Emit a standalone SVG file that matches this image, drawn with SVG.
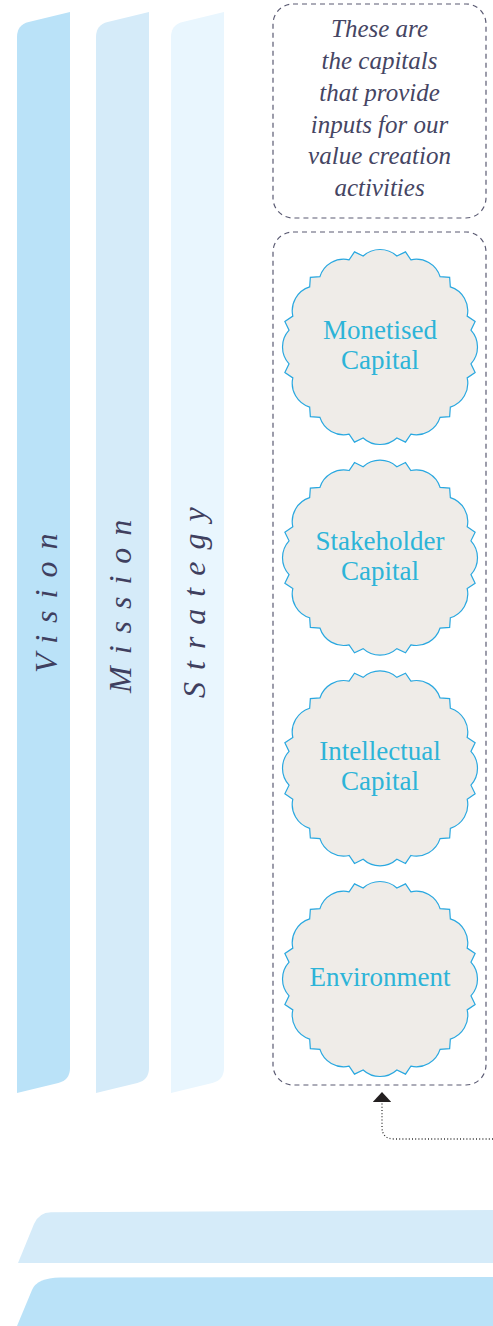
<svg xmlns="http://www.w3.org/2000/svg" xmlns:xlink="http://www.w3.org/1999/xlink" width="493" height="1326" viewBox="0 0 493 1326">
<style>
.bar-label{font-style:italic;font-size:32px;fill:#3f3f5f;letter-spacing:12px}
.note{font-style:italic;font-size:25px;fill:#454563;text-anchor:middle}
.cap{font-size:27px;fill:#2db4d8;text-anchor:middle}
.dash{fill:none;stroke:#5a5a72;stroke-width:1.2;stroke-dasharray:5 4}
.seal{fill:#efece8;stroke:#2aa8e0;stroke-width:1.2}
.conn{fill:none;stroke:#333;stroke-width:1.3;stroke-dasharray:1 2.2}
</style>
<defs>
<path id="bar" d="M17 1093 V37 Q17 25 28.7 22.1 L70 12 V1068 Q70 1080 58.3 1082.9 Z"/>
<path id="sealShape" d="M-16.86 -90.95 A25 25 0 0 1 16.86 -90.95 L25.49 -95.14 L30.88 -87.19 A25 25 0 0 1 60.07 -70.34 L69.65 -69.65 L70.34 -60.07 A25 25 0 0 1 87.19 -30.88 L95.14 -25.49 L90.95 -16.86 A25 25 0 0 1 90.95 16.86 L95.14 25.49 L87.19 30.88 A25 25 0 0 1 70.34 60.07 L69.65 69.65 L60.07 70.34 A25 25 0 0 1 30.88 87.19 L25.49 95.14 L16.86 90.95 A25 25 0 0 1 -16.86 90.95 L-25.49 95.14 L-30.88 87.19 A25 25 0 0 1 -60.07 70.34 L-69.65 69.65 L-70.34 60.07 A25 25 0 0 1 -87.19 30.88 L-95.14 25.49 L-90.95 16.86 A25 25 0 0 1 -90.95 -16.86 L-95.14 -25.49 L-87.19 -30.88 A25 25 0 0 1 -70.34 -60.07 L-69.65 -69.65 L-60.07 -70.34 A25 25 0 0 1 -30.88 -87.19 L-25.49 -95.14 Z"/>
<marker id="arrow" viewBox="0 0 10 18.4" refX="0" refY="9.2" markerWidth="10" markerHeight="18.4" markerUnits="userSpaceOnUse" orient="auto">
<path d="M0 0 L10 9.2 L0 18.4 Z" fill="#231f20"/>
</marker>
</defs>

<g id="vision">
<use xlink:href="#bar" href="#bar" fill="#bae2f8"/>
<text class="bar-label" font-family="Liberation Serif, DejaVu Serif, serif" transform="translate(57,673) rotate(-90)">Vision</text>
</g>
<g id="mission">
<use xlink:href="#bar" href="#bar" transform="translate(79,0)" fill="#d5ebf9"/>
<text class="bar-label" font-family="Liberation Serif, DejaVu Serif, serif" transform="translate(131,693) rotate(-90)">Mission</text>
</g>
<g id="strategy">
<use xlink:href="#bar" href="#bar" transform="translate(154,0)" fill="#e9f6fe"/>
<text class="bar-label" font-family="Liberation Serif, DejaVu Serif, serif" transform="translate(205,698) rotate(-90)">Strategy</text>
</g>

<g id="note" font-family="Liberation Serif, DejaVu Serif, serif">
<rect class="dash" x="273" y="4" width="213" height="214" rx="20" ry="20"/>
<text class="note" x="379.5" y="37">These are</text>
<text class="note" x="379.5" y="69">the capitals</text>
<text class="note" x="379.5" y="101">that provide</text>
<text class="note" x="379.5" y="133">inputs for our</text>
<text class="note" x="379.5" y="164">value creation</text>
<text class="note" x="379.5" y="196">activities</text>
</g>

<g id="capitals">
<rect class="dash" x="273" y="232" width="213" height="853" rx="20" ry="20"/>
</g>

<g id="monetised" font-family="Liberation Serif, DejaVu Serif, serif">
<use xlink:href="#sealShape" href="#sealShape" class="seal" transform="translate(380,347)"/>
<text class="cap" x="380" y="339">Monetised</text>
<text class="cap" x="380" y="369">Capital</text>
</g>
<g id="stakeholder" font-family="Liberation Serif, DejaVu Serif, serif">
<use xlink:href="#sealShape" href="#sealShape" class="seal" transform="translate(380,557.7)"/>
<text class="cap" x="380" y="550">Stakeholder</text>
<text class="cap" x="380" y="580">Capital</text>
</g>
<g id="intellectual" font-family="Liberation Serif, DejaVu Serif, serif">
<use xlink:href="#sealShape" href="#sealShape" class="seal" transform="translate(380,768.3)"/>
<text class="cap" x="380" y="760">Intellectual</text>
<text class="cap" x="380" y="790">Capital</text>
</g>
<g id="environment" font-family="Liberation Serif, DejaVu Serif, serif">
<use xlink:href="#sealShape" href="#sealShape" class="seal" transform="translate(380,979)"/>
<text class="cap" x="380" y="986">Environment</text>
</g>

<g id="band-upper">
<path d="M18 1263 L34 1224 Q39 1212.5 51 1212.3 L493 1210 V1263 Z" fill="#d5ebf9"/>
</g>
<g id="band-lower">
<path d="M17 1326 L32 1290 Q37 1278 60 1277.6 L493 1277 V1326 Z" fill="#bae2f8"/>
</g>

<g id="connectors">
<path class="conn" d="M493 1139 H394 Q382 1139 382 1127 V1102" marker-end="url(#arrow)"/>
</g>
</svg>
